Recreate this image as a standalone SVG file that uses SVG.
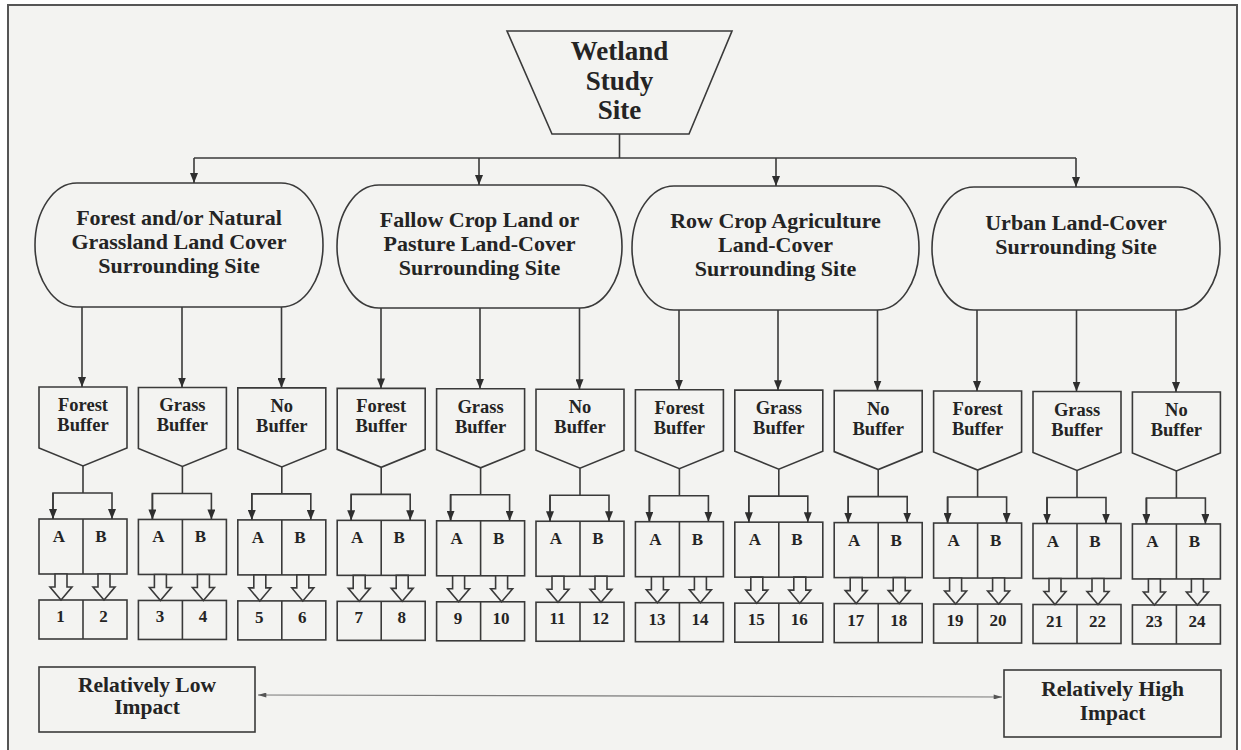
<svg xmlns="http://www.w3.org/2000/svg" width="1241" height="750" viewBox="0 0 1241 750">
<defs>
<style>
.bg{fill:#f3f3f1}
.sh{fill:#f3f3f1;stroke:#3a3a3a;stroke-width:1.6}
.ln{fill:none;stroke:#3a3a3a;stroke-width:1.6}
.th{fill:none;stroke:#7a7a7a;stroke-width:1.2}
.t{font-family:"Liberation Serif","Times New Roman",serif;font-weight:bold;fill:#242424;text-anchor:middle}
.t27{font-size:27px}
.t22{font-size:22px}
.t21{font-size:21.5px}
.t18{font-size:18.5px}
.t17{font-size:17px}
</style>
<marker id="ah" viewBox="0 0 10 8" refX="10" refY="4" markerWidth="10" markerHeight="8" orient="auto" markerUnits="userSpaceOnUse"><path d="M0,0 L10,4 L0,8 z" fill="#2e2e2e"/></marker>
<marker id="as" viewBox="0 0 10 6" refX="10" refY="3" markerWidth="9" markerHeight="5" orient="auto-start-reverse" markerUnits="userSpaceOnUse"><path d="M0,0 L10,3 L0,6 z" fill="#555"/></marker>
<g id="bufnode">
<polygon class="sh" points="0,387 88,387 88,448 44,466 0,448"/>
</g>
<g id="abnode">
<rect class="sh" x="0" y="519" width="88" height="55"/>
<line class="ln" x1="44" y1="519" x2="44" y2="574"/>
<text class="t t17" x="20" y="542">A</text>
<text class="t t17" x="62" y="542">B</text>
</g>
<g id="conn">
<polyline class="ln" points="44,466 44,493"/>
<polyline class="ln" points="14,519 14,493 73,493 73,519" marker-end="url(#ah)"/>
<line class="ln" x1="14" y1="493" x2="14" y2="519" marker-end="url(#ah)"/>
<polygon class="sh" points="16,574 28,574 28,587 33,587 22,600 11,587 16,587"/>
<polygon class="sh" points="59,574 71,574 71,587 76,587 65,600 54,587 59,587"/>
</g>
</defs>
<rect x="0" y="0" width="1241" height="750" fill="#ffffff"/>
<rect x="8" y="5" width="1229" height="770" fill="#f3f3f1" stroke="#555" stroke-width="2"/>

<g id="wetland">
<polygon class="sh" points="507,31 732,31 689,134 552,134"/>
<text class="t t27" x="619.5" y="60">Wetland</text>
<text class="t t27" x="619.5" y="90">Study</text>
<text class="t t27" x="619.5" y="119">Site</text>
</g>

<g id="cat-forest">
<path class="sh" d="M77,183 H281 A42 62 0 0 1 281,307 H77 A42 62 0 0 1 77,183 Z"/>
<text class="t t22" x="179" y="225">Forest and/or Natural</text>
<text class="t t22" x="179" y="249">Grassland Land Cover</text>
<text class="t t22" x="179" y="273">Surrounding Site</text>
</g>
<g id="cat-fallow">
<path class="sh" d="M379,185 H580 A42 61.5 0 0 1 580,308 H379 A42 61.5 0 0 1 379,185 Z"/>
<text class="t t22" x="479.5" y="227">Fallow Crop Land or</text>
<text class="t t22" x="479.5" y="251">Pasture Land-Cover</text>
<text class="t t22" x="479.5" y="275">Surrounding Site</text>
</g>
<g id="cat-row">
<path class="sh" d="M674,186 H877 A42 62 0 0 1 877,310 H674 A42 62 0 0 1 674,186 Z"/>
<text class="t t22" x="775.5" y="228">Row Crop Agriculture</text>
<text class="t t22" x="775.5" y="252">Land-Cover</text>
<text class="t t22" x="775.5" y="276">Surrounding Site</text>
</g>
<g id="cat-urban">
<path class="sh" d="M974,187 H1178 A42 61.5 0 0 1 1178,310 H974 A42 61.5 0 0 1 974,187 Z"/>
<text class="t t22" x="1076" y="230">Urban Land-Cover</text>
<text class="t t22" x="1076" y="254">Surrounding Site</text>
</g>

<g id="buffers">
<g id="buf1" transform="translate(39,0)"><use href="#bufnode"/><text class="t t18" x="44" y="411">Forest</text><text class="t t18" x="44" y="431">Buffer</text></g>
<g id="buf2" transform="translate(138.4,0.45)"><use href="#bufnode"/><text class="t t18" x="44" y="411">Grass</text><text class="t t18" x="44" y="431">Buffer</text></g>
<g id="buf3" transform="translate(237.8,0.9)"><use href="#bufnode"/><text class="t t18" x="44" y="411">No</text><text class="t t18" x="44" y="431">Buffer</text></g>
<g id="buf4" transform="translate(337.2,1.35)"><use href="#bufnode"/><text class="t t18" x="44" y="411">Forest</text><text class="t t18" x="44" y="431">Buffer</text></g>
<g id="buf5" transform="translate(436.6,1.8)"><use href="#bufnode"/><text class="t t18" x="44" y="411">Grass</text><text class="t t18" x="44" y="431">Buffer</text></g>
<g id="buf6" transform="translate(536,2.25)"><use href="#bufnode"/><text class="t t18" x="44" y="411">No</text><text class="t t18" x="44" y="431">Buffer</text></g>
<g id="buf7" transform="translate(635.4,2.7)"><use href="#bufnode"/><text class="t t18" x="44" y="411">Forest</text><text class="t t18" x="44" y="431">Buffer</text></g>
<g id="buf8" transform="translate(734.8,3.15)"><use href="#bufnode"/><text class="t t18" x="44" y="411">Grass</text><text class="t t18" x="44" y="431">Buffer</text></g>
<g id="buf9" transform="translate(834.2,3.6)"><use href="#bufnode"/><text class="t t18" x="44" y="411">No</text><text class="t t18" x="44" y="431">Buffer</text></g>
<g id="buf10" transform="translate(933.6,4.05)"><use href="#bufnode"/><text class="t t18" x="44" y="411">Forest</text><text class="t t18" x="44" y="431">Buffer</text></g>
<g id="buf11" transform="translate(1033,4.5)"><use href="#bufnode"/><text class="t t18" x="44" y="411">Grass</text><text class="t t18" x="44" y="431">Buffer</text></g>
<g id="buf12" transform="translate(1132.4,4.95)"><use href="#bufnode"/><text class="t t18" x="44" y="411">No</text><text class="t t18" x="44" y="431">Buffer</text></g>
</g>

<g id="abboxes">
<g id="ab1" transform="translate(39,0)"><use href="#abnode"/></g>
<g id="ab2" transform="translate(138.4,0.45)"><use href="#abnode"/></g>
<g id="ab3" transform="translate(237.8,0.9)"><use href="#abnode"/></g>
<g id="ab4" transform="translate(337.2,1.35)"><use href="#abnode"/></g>
<g id="ab5" transform="translate(436.6,1.8)"><use href="#abnode"/></g>
<g id="ab6" transform="translate(536,2.25)"><use href="#abnode"/></g>
<g id="ab7" transform="translate(635.4,2.7)"><use href="#abnode"/></g>
<g id="ab8" transform="translate(734.8,3.15)"><use href="#abnode"/></g>
<g id="ab9" transform="translate(834.2,3.6)"><use href="#abnode"/></g>
<g id="ab10" transform="translate(933.6,4.05)"><use href="#abnode"/></g>
<g id="ab11" transform="translate(1033,4.5)"><use href="#abnode"/></g>
<g id="ab12" transform="translate(1132.4,4.95)"><use href="#abnode"/></g>
</g>

<g id="numbers">
<g id="num1" transform="translate(39,0)"><rect class="sh" x="0" y="600" width="88" height="39"/><line class="ln" x1="44" y1="600" x2="44" y2="639"/><text class="t t17" x="21.5" y="622">1</text><text class="t t17" x="64.5" y="622">2</text></g>
<g id="num2" transform="translate(138.4,0.45)"><rect class="sh" x="0" y="600" width="88" height="39"/><line class="ln" x1="44" y1="600" x2="44" y2="639"/><text class="t t17" x="21.5" y="622">3</text><text class="t t17" x="64.5" y="622">4</text></g>
<g id="num3" transform="translate(237.8,0.9)"><rect class="sh" x="0" y="600" width="88" height="39"/><line class="ln" x1="44" y1="600" x2="44" y2="639"/><text class="t t17" x="21.5" y="622">5</text><text class="t t17" x="64.5" y="622">6</text></g>
<g id="num4" transform="translate(337.2,1.35)"><rect class="sh" x="0" y="600" width="88" height="39"/><line class="ln" x1="44" y1="600" x2="44" y2="639"/><text class="t t17" x="21.5" y="622">7</text><text class="t t17" x="64.5" y="622">8</text></g>
<g id="num5" transform="translate(436.6,1.8)"><rect class="sh" x="0" y="600" width="88" height="39"/><line class="ln" x1="44" y1="600" x2="44" y2="639"/><text class="t t17" x="21.5" y="622">9</text><text class="t t17" x="64.5" y="622">10</text></g>
<g id="num6" transform="translate(536,2.25)"><rect class="sh" x="0" y="600" width="88" height="39"/><line class="ln" x1="44" y1="600" x2="44" y2="639"/><text class="t t17" x="21.5" y="622">11</text><text class="t t17" x="64.5" y="622">12</text></g>
<g id="num7" transform="translate(635.4,2.7)"><rect class="sh" x="0" y="600" width="88" height="39"/><line class="ln" x1="44" y1="600" x2="44" y2="639"/><text class="t t17" x="21.5" y="622">13</text><text class="t t17" x="64.5" y="622">14</text></g>
<g id="num8" transform="translate(734.8,3.15)"><rect class="sh" x="0" y="600" width="88" height="39"/><line class="ln" x1="44" y1="600" x2="44" y2="639"/><text class="t t17" x="21.5" y="622">15</text><text class="t t17" x="64.5" y="622">16</text></g>
<g id="num9" transform="translate(834.2,3.6)"><rect class="sh" x="0" y="600" width="88" height="39"/><line class="ln" x1="44" y1="600" x2="44" y2="639"/><text class="t t17" x="21.5" y="622">17</text><text class="t t17" x="64.5" y="622">18</text></g>
<g id="num10" transform="translate(933.6,4.05)"><rect class="sh" x="0" y="600" width="88" height="39"/><line class="ln" x1="44" y1="600" x2="44" y2="639"/><text class="t t17" x="21.5" y="622">19</text><text class="t t17" x="64.5" y="622">20</text></g>
<g id="num11" transform="translate(1033,4.5)"><rect class="sh" x="0" y="600" width="88" height="39"/><line class="ln" x1="44" y1="600" x2="44" y2="639"/><text class="t t17" x="21.5" y="622">21</text><text class="t t17" x="64.5" y="622">22</text></g>
<g id="num12" transform="translate(1132.4,4.95)"><rect class="sh" x="0" y="600" width="88" height="39"/><line class="ln" x1="44" y1="600" x2="44" y2="639"/><text class="t t17" x="21.5" y="622">23</text><text class="t t17" x="64.5" y="622">24</text></g>
</g>

<g id="low">
<rect class="sh" x="39" y="667" width="216" height="65"/>
<text class="t t21" x="147" y="692">Relatively Low</text>
<text class="t t21" x="147" y="714">Impact</text>
</g>
<g id="high">
<rect class="sh" x="1004" y="670" width="217" height="67"/>
<text class="t t21" x="1112.5" y="696">Relatively High</text>
<text class="t t21" x="1112.5" y="720">Impact</text>
</g>

<g id="connectors">
<line class="ln" x1="619.5" y1="134" x2="619.5" y2="158"/>
<line class="ln" x1="194" y1="158" x2="1076" y2="158"/>
<line class="ln" x1="194" y1="158" x2="194" y2="183" marker-end="url(#ah)"/>
<line class="ln" x1="479" y1="158" x2="479" y2="185" marker-end="url(#ah)"/>
<line class="ln" x1="776" y1="158" x2="776" y2="186" marker-end="url(#ah)"/>
<line class="ln" x1="1076" y1="158" x2="1076" y2="187" marker-end="url(#ah)"/>
<line class="ln" x1="82" y1="307" x2="82" y2="387" marker-end="url(#ah)"/>
<line class="ln" x1="182" y1="307" x2="182" y2="387.5" marker-end="url(#ah)"/>
<line class="ln" x1="281.5" y1="307" x2="281.5" y2="388" marker-end="url(#ah)"/>
<line class="ln" x1="381" y1="308" x2="381" y2="388.4" marker-end="url(#ah)"/>
<line class="ln" x1="480" y1="308" x2="480" y2="388.8" marker-end="url(#ah)"/>
<line class="ln" x1="579.5" y1="308" x2="579.5" y2="389.3" marker-end="url(#ah)"/>
<line class="ln" x1="679" y1="310" x2="679" y2="389.7" marker-end="url(#ah)"/>
<line class="ln" x1="778" y1="310" x2="778" y2="390.2" marker-end="url(#ah)"/>
<line class="ln" x1="877.5" y1="310" x2="877.5" y2="390.6" marker-end="url(#ah)"/>
<line class="ln" x1="977" y1="310" x2="977" y2="391" marker-end="url(#ah)"/>
<line class="ln" x1="1076.5" y1="310" x2="1076.5" y2="391.5" marker-end="url(#ah)"/>
<line class="ln" x1="1176" y1="310" x2="1176" y2="392" marker-end="url(#ah)"/>
<use href="#conn" transform="translate(39,0)"/>
<use href="#conn" transform="translate(138.4,0.45)"/>
<use href="#conn" transform="translate(237.8,0.9)"/>
<use href="#conn" transform="translate(337.2,1.35)"/>
<use href="#conn" transform="translate(436.6,1.8)"/>
<use href="#conn" transform="translate(536,2.25)"/>
<use href="#conn" transform="translate(635.4,2.7)"/>
<use href="#conn" transform="translate(734.8,3.15)"/>
<use href="#conn" transform="translate(834.2,3.6)"/>
<use href="#conn" transform="translate(933.6,4.05)"/>
<use href="#conn" transform="translate(1033,4.5)"/>
<use href="#conn" transform="translate(1132.4,4.95)"/>
<line class="th" x1="258" y1="695" x2="1002" y2="697" marker-start="url(#as)" marker-end="url(#as)"/>
</g>
</svg>
